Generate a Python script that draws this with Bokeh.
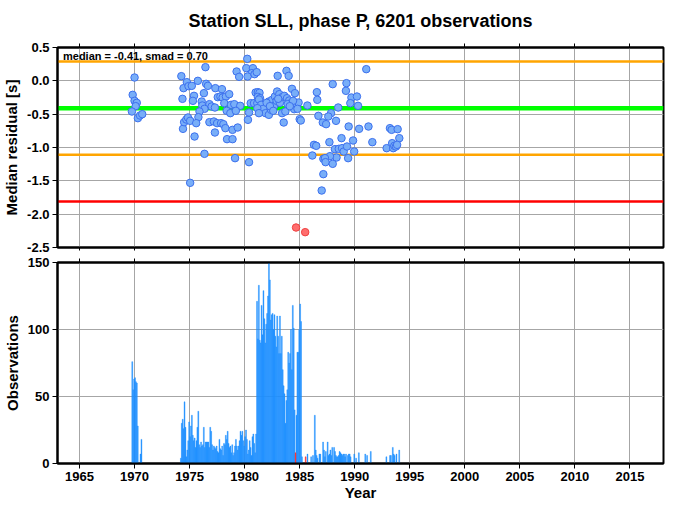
from bokeh.plotting import figure
from bokeh.layouts import column
from bokeh.models import (ColumnDataSource, FixedTicker, PrintfTickFormatter, Span,
                          Label, LinearAxis, Range1d)
from bokeh.embed import file_html
from bokeh.resources import INLINE

FONT = "Liberation Sans"

# ---------------- data ----------------
title_text = "Station SLL, phase P, 6201 observations"
median_val = -0.41
smad_val = 0.70

# median residuals (decimal year, seconds)
resid_year = [
    1970.0, 1969.83, 1970.0, 1970.2, 1970.1, 1969.76, 1970.3, 1970.5, 1970.7,
    1974.25, 1974.35, 1974.4, 1974.5, 1974.45, 1974.75, 1974.9, 1974.7, 1974.85, 1975.05, 1975.05,
    1976.44, 1980.24, 1979.27, 1979.5, 1980.15, 1980.75, 1980.65, 1980.27, 1980.9,
    1975.2, 1975.75, 1976.5, 1976.66, 1976.3, 1975.4, 1975.3, 1976.1, 1976.15,
    1977.34, 1977.94, 1977.56, 1977.8, 1978.0, 1978.3, 1978.6, 1978.15, 1978.76, 1979.06, 1979.6,
    1976.8, 1977.0, 1977.3, 1976.35, 1975.9, 1978.37, 1978.7, 1979.2, 1980.3, 1980.4, 1980.55,
    1981.0, 1981.3, 1980.85, 1981.15, 1975.8, 1975.6, 1975.45, 1976.8, 1977.2, 1977.5, 1977.86,
    1978.07, 1977.3, 1978.25, 1978.9, 1979.37, 1978.4, 1978.9, 1976.35, 1979.13, 1980.4,
    1981.1, 1983.0, 1983.8, 1984.0, 1986.56, 1986.6, 1981.2, 1981.35, 1981.2, 1981.4, 1981.3,
    1982.2, 1982.5, 1982.75, 1982.95, 1983.15, 1983.4, 1983.6, 1983.85, 1984.05, 1984.3, 1984.57,
    1984.2, 1984.5, 1984.7, 1984.9, 1985.7, 1981.5, 1981.7, 1981.9, 1982.2, 1982.4, 1982.7,
    1981.15, 1981.3, 1983.4, 1983.7, 1983.55, 1985.0, 1985.1, 1986.7, 1987.1, 1986.3, 1986.5,
    1986.15, 1987.15, 1987.15, 1987.0,
    1982.0, 1982.3, 1982.9, 1983.2, 1983.9, 1984.4, 1984.8, 1982.6, 1983.05, 1984.1,
    1991.05, 1988.0, 1989.25, 1989.2, 1989.7, 1990.2, 1989.6, 1990.3, 1988.5, 1987.85, 1987.6,
    1987.4, 1988.3, 1989.45, 1990.4, 1991.25, 1993.2, 1993.35, 1993.9, 1987.7, 1988.8, 1989.85,
    1991.6, 1994.05, 1988.2, 1988.55, 1988.85, 1989.0, 1989.3, 1989.95, 1988.35, 1989.4,
    1987.75, 1987.3, 1987.35, 1988.0, 1992.9, 1993.4, 1993.5, 1993.6, 1993.75, 1993.85,
]
resid_value = [
    0.05, -0.21, -0.30, -0.33, -0.38, -0.46, -0.56, -0.52, -0.50,
    0.07, -0.27, -0.72, -0.62, -0.11, -0.02, -0.08, -0.58, -0.55, -0.60, -1.53,
    0.205, 0.33, 0.14, 0.06, 0.19, 0.19, 0.115, 0.065, 0.10,
    -0.075, 0.0, -0.045, -0.075, -0.185, -0.225, -0.30, -0.31, -0.37,
    -0.11, -0.125, -0.245, -0.235, -0.25, -0.235, -0.20, -0.335, -0.36, -0.35, -0.375,
    -0.35, -0.385, -0.40, -0.42, -0.46, -0.45, -0.485, -0.45, -0.585, -0.475, -0.335,
    -0.175, -0.26, -0.335, -0.335, -0.545, -0.635, -0.835, -0.62, -0.61, -0.635, -0.635,
    -0.65, -0.775, -0.71, -0.735, -0.70, -0.875, -0.875, -1.095, -1.16, -1.22,
    0.13, 0.075, 0.15, 0.075, -0.17, -0.285, -0.17, -0.18, -0.24, -0.26, -0.28,
    -0.31, -0.285, -0.235, -0.16, -0.20, -0.245, -0.225, -0.26, -0.295, -0.12, -0.185,
    -0.335, -0.425, -0.36, -0.325, -0.37, -0.36, -0.42, -0.485, -0.51, -0.435, -0.37,
    -0.41, -0.485, -0.485, -0.46, -0.625, -0.575, -0.595, -0.525, -0.625, -0.96, -0.975,
    -1.12, -1.17, -1.40, -1.645,
    -0.33, -0.38, -0.30, -0.33, -0.35, -0.30, -0.42, -0.45, -0.27, -0.38,
    0.175, -0.05, -0.035, -0.15, -0.25, -0.235, -0.335, -0.375, -0.40, -0.485, -0.535,
    -0.65, -0.60, -0.685, -0.72, -0.685, -0.71, -0.735, -0.725, -0.92, -0.86, -0.895,
    -0.92, -0.86, -1.025, -1.02, -1.01, -1.06, -0.985, -1.06, -1.15, -1.16,
    -1.13, -1.16, -1.22, -1.245, -1.01, -0.935, -1.01, -0.975, -0.985, -0.96,
]
outlier_year = [1984.67, 1985.5]
outlier_value = [-2.20, -2.27]

# monthly observation counts, Jan..Dec
obs_1969 = [0, 0, 0, 0, 0, 0, 0, 0, 0, 76, 55, 63]
obs_1970 = [64, 61, 60, 28, 0, 0, 7, 18, 0, 0, 0, 0]
obs_1974 = [0, 0, 4, 30, 33, 26, 46, 27, 5, 10, 17, 31]
obs_1975 = [20, 28, 36, 21, 17, 19, 12, 17, 27, 39, 14, 12]
obs_1976 = [16, 13, 14, 27, 12, 16, 16, 16, 16, 12, 27, 24]
obs_1977 = [14, 10, 13, 12, 11, 13, 9, 8, 18, 11, 10, 13]
obs_1978 = [6, 15, 14, 21, 18, 24, 15, 12, 13, 8, 14, 6]
obs_1979 = [8, 13, 18, 13, 10, 13, 17, 24, 21, 24, 17, 13]
obs_1980 = [20, 25, 18, 7, 10, 17, 12, 6, 20, 22, 15, 8]
obs_1981 = [22, 121, 93, 133, 92, 90, 118, 96, 129, 108, 90, 104]
obs_1982 = [112, 125, 150, 137, 107, 111, 112, 100, 111, 95, 87, 110]
obs_1983 = [95, 82, 110, 82, 95, 70, 58, 52, 30, 47, 55, 83]
obs_1984 = [75, 82, 100, 70, 118, 101, 40, 0, 36, 83, 83, 100]
obs_1985 = [119, 106, 5, 0, 0, 0, 0, 0, 7, 0, 0, 0]
obs_1986 = [5, 0, 6, 0, 36, 10, 6, 4, 0, 7, 7, 0]
obs_1987 = [0, 16, 10, 5, 9, 0, 16, 6, 7, 10, 6, 12]
obs_1988 = [0, 12, 9, 6, 5, 5, 6, 9, 8, 7, 6, 7]
obs_1989 = [7, 5, 7, 0, 6, 7, 7, 5, 0, 0, 0, 7]
obs_1990 = [0, 4, 0, 0, 8, 0, 0, 0, 0, 0, 0, 7]
obs_1991 = [0, 6, 0, 0, 0, 9, 0, 0, 0, 0, 0, 0]
obs_1992 = [0, 0, 0, 0, 0, 0, 0, 0, 0, 0, 5, 0]
obs_1993 = [0, 0, 6, 6, 0, 12, 7, 6, 0, 7, 0, 0]
obs_1994 = [10, 0, 0, 0, 0, 0, 0, 0, 0, 0, 0, 0]
# observations in months whose median is an outlier (red)
outlier_obs_month = [1984 + 7 / 12, 1985 + 6 / 12]
outlier_obs_count = [8, 5]

year_ticks = [1965, 1970, 1975, 1980, 1985, 1990, 1995, 2000, 2005, 2010, 2015]
resid_ticks = [-2.5, -2.0, -1.5, -1.0, -0.5, 0.0, 0.5]
obs_ticks = [0, 50, 100, 150]

# ---------------- build histogram table ----------------
yearly = {1969: obs_1969, 1970: obs_1970, 1974: obs_1974, 1975: obs_1975, 1976: obs_1976,
          1977: obs_1977, 1978: obs_1978, 1979: obs_1979, 1980: obs_1980, 1981: obs_1981,
          1982: obs_1982, 1983: obs_1983, 1984: obs_1984, 1985: obs_1985, 1986: obs_1986,
          1987: obs_1987, 1988: obs_1988, 1989: obs_1989, 1990: obs_1990, 1991: obs_1991,
          1992: obs_1992, 1993: obs_1993, 1994: obs_1994}
h_left, h_right, h_top = [], [], []
for yr, counts in yearly.items():
    for m, c in enumerate(counts):
        if c > 0:
            h_left.append(yr + m / 12)
            h_right.append(yr + (m + 1) / 12)
            h_top.append(c)
hist_src = ColumnDataSource(dict(left=h_left, right=h_right, top=h_top))
red_src = ColumnDataSource(dict(left=outlier_obs_month,
                                right=[v + 1 / 12 for v in outlier_obs_month],
                                top=outlier_obs_count))

# ---------------- figures ----------------
x_range = Range1d(1963, 2018.05)
GRID = "#a6a6a6"


def style_axis(ax, size="13px"):
    ax.axis_line_color = "black"
    ax.axis_line_width = 2
    ax.major_tick_line_color = "black"
    ax.major_tick_line_width = 1
    ax.major_tick_in = 0
    ax.major_tick_out = 5
    ax.minor_tick_line_color = None
    ax.major_label_text_font = FONT
    ax.major_label_text_font_style = "bold"
    ax.major_label_text_font_size = size
    ax.major_label_text_color = "black"
    ax.major_label_standoff = 3
    ax.axis_label_text_font = FONT
    ax.axis_label_text_font_style = "bold"
    ax.axis_label_text_font_size = "15px"
    ax.axis_label_text_color = "black"
    ax.axis_label_standoff = 4


def ticks_only(ax, out=4):
    style_axis(ax)
    ax.major_label_text_color = None
    ax.major_label_text_font_size = "1px"
    ax.major_label_standoff = 0
    ax.major_tick_out = out


p1 = figure(width=670, height=254, output_backend="svg", toolbar_location=None,
            x_range=x_range, y_range=Range1d(-2.5, 0.5),
            min_border_left=52, min_border_right=7, min_border_top=46, min_border_bottom=7)
p1.title.text = title_text
p1.title.align = "center"
p1.title.vertical_align = "top"
p1.title.text_font = FONT
p1.title.text_font_size = "18px"
p1.title.text_font_style = "bold"
p1.title.text_color = "black"
p1.title.standoff = 21

p1.xaxis.ticker = FixedTicker(ticks=year_ticks)
ticks_only(p1.xaxis[0], out=3)
p1.yaxis.ticker = FixedTicker(ticks=resid_ticks)
p1.yaxis.formatter = PrintfTickFormatter(format="%.1f")
style_axis(p1.yaxis[0])
p1.yaxis.axis_label = "Median residual [s]"
top1 = LinearAxis(ticker=FixedTicker(ticks=year_ticks))
ticks_only(top1)
p1.add_layout(top1, "above")

p1.xgrid.ticker = FixedTicker(ticks=year_ticks)
p1.ygrid.ticker = FixedTicker(ticks=resid_ticks)
p1.grid.grid_line_color = GRID
p1.grid.grid_line_width = 1
p1.outline_line_color = "black"
p1.outline_line_width = 2

for loc, col, w in [(median_val + smad_val, "#FFA500", 2.5),
                    (median_val, "#00FF00", 4.5),
                    (median_val - smad_val, "#FFA500", 2.5),
                    (median_val - 2 * smad_val, "#FF0000", 2.5)]:
    p1.add_layout(Span(location=loc, dimension="width", line_color=col,
                       line_width=w, level="underlay"))

p1.scatter(resid_year, resid_value, size=7.5, fill_color="#78AEF8",
           line_color="#3C70EE", line_width=1)
p1.scatter(outlier_year, outlier_value, size=7.5, fill_color="#FF6E6E",
           line_color="#F04040", line_width=1)

p1.add_layout(Label(x=1963.5, y=0.5, y_offset=-2, text_baseline="top",
                    text=f"median = {median_val:.2f}, smad = {smad_val:.2f}",
                    text_font=FONT, text_font_style="bold", text_font_size="11px",
                    text_color="black"))

p2 = figure(width=670, height=249, output_backend="svg", toolbar_location=None,
            x_range=x_range, y_range=Range1d(0, 150),
            min_border_left=52, min_border_right=7, min_border_top=8, min_border_bottom=40)
p2.xaxis.ticker = FixedTicker(ticks=year_ticks)
style_axis(p2.xaxis[0])
p2.xaxis.axis_label = "Year"
p2.xaxis.axis_label_standoff = 0
p2.yaxis.ticker = FixedTicker(ticks=obs_ticks)
style_axis(p2.yaxis[0])
p2.yaxis.axis_label = "Observations"
top2 = LinearAxis(ticker=FixedTicker(ticks=year_ticks))
ticks_only(top2)
p2.add_layout(top2, "above")
p2.xgrid.ticker = FixedTicker(ticks=year_ticks)
p2.ygrid.ticker = FixedTicker(ticks=obs_ticks)
p2.grid.grid_line_color = GRID
p2.grid.grid_line_width = 1
p2.outline_line_color = "black"
p2.outline_line_width = 2

p2.quad(left="left", right="right", top="top", bottom=0, source=hist_src,
        fill_color="#1E90FF", line_color="#1E90FF", line_width=0.4)
p2.quad(left="left", right="right", top="top", bottom=0, source=red_src,
        fill_color="#FF3030", line_color="#FF3030", line_width=0.4)

layout = column(p1, p2, spacing=0)
open("out.html", "w").write(file_html(layout, INLINE))
